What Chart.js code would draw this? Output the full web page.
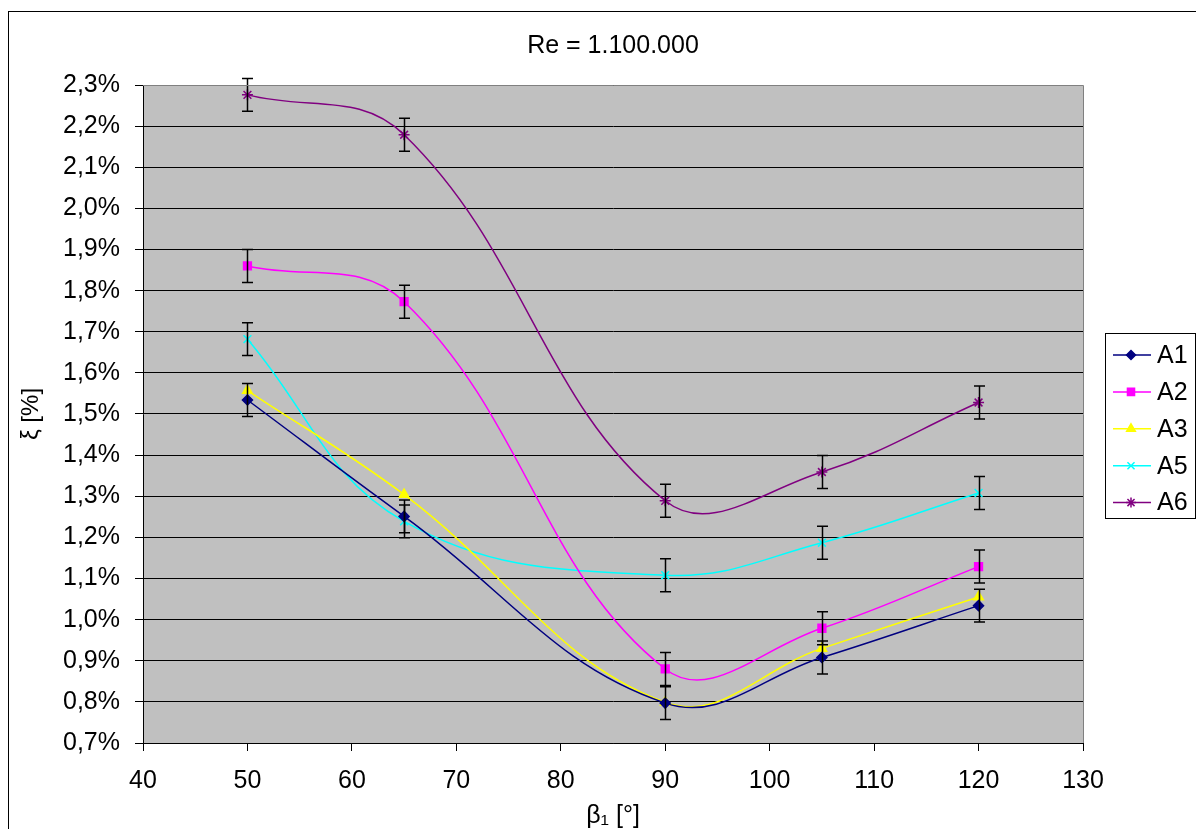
<!DOCTYPE html>
<html>
<head>
<meta charset="utf-8">
<script src="https://cdn.jsdelivr.net/npm/chart.js@4/dist/chart.umd.min.js"></script>
<style>
  html, body { margin: 0; padding: 0; background: #fff; }
  #wrap { width: 1196px; height: 829px; }
</style>
</head>
<body>
<div id="wrap"><canvas id="chart" width="1196" height="829"></canvas></div>
<script>
const beta = [50, 65, 90, 105, 120]

const seriesA1 = [1.534, 1.251, 0.797, 0.908, 1.034]
const seriesA2 = [1.860, 1.773, 0.880, 0.979, 1.129]
const seriesA3 = [1.557, 1.304, 0.799, 0.930, 1.055]
const seriesA5 = [1.682, 1.239, 1.108, 1.187, 1.308]
const seriesA6 = [2.276, 2.179, 1.289, 1.359, 1.528]

// error bar half-widths (A3 has none)
const errA1 = [0.04, 0.04, 0.04, 0.04, 0.04]
const errA2 = [0.04, 0.04, 0.04, 0.04, 0.04]
const errA5 = [0.04, 0.04, 0.04, 0.04, 0.04]
const errA6 = [0.04, 0.04, 0.04, 0.04, 0.04]

const yTicks = [0.7, 0.8, 0.9, 1.0, 1.1, 1.2, 1.3, 1.4, 1.5, 1.6, 1.7, 1.8, 1.9, 2.0, 2.1, 2.2, 2.3]
const xTicks = [40, 50, 60, 70, 80, 90, 100, 110, 120, 130]

const FONT = '"Liberation Sans", Arial, sans-serif'

const makeSet = (label, values, errors, color, style, radius) => ({
  label,
  data: values.map((v, i) => ({ x: beta[i], y: v })),
  errors,
  borderColor: color,
  backgroundColor: color,
  borderWidth: 1.5,
  pointStyle: style,
  pointRadius: radius,
  pointHoverRadius: radius,
  pointBorderWidth: 1.5,
  tension: 0.4,
  fill: false,
})

const datasets = [
  makeSet('A1', seriesA1, errA1, '#000080', 'rectRot', 5),
  makeSet('A2', seriesA2, errA2, '#ff00ff', 'rect', 5.5),
  makeSet('A3', seriesA3, null, '#ffff00', 'triangle', 5.5),
  makeSet('A5', seriesA5, errA5, '#00ffff', 'crossRot', 5.5),
  makeSet('A6', seriesA6, errA6, '#800080', 'star', 5.5),
]

// grey plot background, outer frame, title
const framePlugin = {
  id: 'frame',
  beforeDraw(chart) {
    const { ctx, chartArea: a } = chart
    ctx.save()
    ctx.fillStyle = '#fff'
    ctx.fillRect(0, 0, chart.width, chart.height)
    ctx.strokeStyle = '#000'
    ctx.lineWidth = 1
    ctx.strokeRect(8.5, 11.5, chart.width + 10, chart.height + 10)
    ctx.fillStyle = '#c0c0c0'
    ctx.fillRect(a.left, a.top, a.right - a.left, a.bottom - a.top)
    ctx.fillStyle = '#000'
    ctx.font = '25px ' + FONT
    ctx.textAlign = 'center'
    ctx.textBaseline = 'middle'
    ctx.fillText('Re = 1.100.000', (a.left + a.right) / 2, 46)
    ctx.restore()
  },
  afterDraw(chart) {
    const { ctx, chartArea: a } = chart
    ctx.save()
    ctx.strokeStyle = '#808080'
    ctx.lineWidth = 1
    ctx.beginPath()
    ctx.moveTo(a.left, a.top + 0.5)
    ctx.lineTo(a.right + 0.5, a.top + 0.5)
    ctx.lineTo(a.right + 0.5, a.bottom)
    ctx.stroke()
    ctx.restore()
  },
}

const errorBarPlugin = {
  id: 'errorBars',
  afterDatasetsDraw(chart) {
    const { ctx } = chart
    const xs = chart.scales.x, ys = chart.scales.y
    ctx.save()
    ctx.strokeStyle = '#000'
    ctx.lineWidth = 1.5
    chart.data.datasets.forEach(ds => {
      if (!ds.errors) return
      ds.data.forEach((p, i) => {
        const x = Math.round(xs.getPixelForValue(p.x)) + 0.5
        const y1 = ys.getPixelForValue(p.y + ds.errors[i])
        const y2 = ys.getPixelForValue(p.y - ds.errors[i])
        ctx.beginPath()
        ctx.moveTo(x, y1); ctx.lineTo(x, y2)
        ctx.moveTo(x - 5.5, y1); ctx.lineTo(x + 5.5, y1)
        ctx.moveTo(x - 5.5, y2); ctx.lineTo(x + 5.5, y2)
        ctx.stroke()
      })
    })
    ctx.restore()
  },
}

const legendPlugin = {
  id: 'boxLegend',
  afterDraw(chart) {
    const { ctx } = chart
    const left = 1105, top = 333, w = 91, h = 185
    ctx.save()
    ctx.fillStyle = '#fff'
    ctx.fillRect(left, top, w, h)
    ctx.strokeStyle = '#000'
    ctx.lineWidth = 1
    ctx.strokeRect(left + 0.5, top + 0.5, w - 1, h)
    chart.data.datasets.forEach((ds, i) => {
      const y = 355 + i * 36.9
      ctx.strokeStyle = ds.borderColor
      ctx.lineWidth = 1.5
      ctx.beginPath()
      ctx.moveTo(1113, y); ctx.lineTo(1151, y)
      ctx.stroke()
      ctx.fillStyle = ds.backgroundColor
      Chart.helpers.drawPoint(ctx, {
        pointStyle: ds.pointStyle, radius: ds.pointRadius - 0.5, rotation: 0, borderWidth: 1.5,
      }, 1131, y)
      ctx.fillStyle = '#000'
      ctx.font = '25px ' + FONT
      ctx.textAlign = 'left'
      ctx.textBaseline = 'middle'
      ctx.fillText(ds.label, 1157, y + 1)
    })
    ctx.restore()
  },
}

new Chart(document.getElementById('chart'), {
  type: 'line',
  data: { datasets },
  options: {
    responsive: false,
    animation: false,
    devicePixelRatio: 1,
    layout: { padding: { top: 85, right: 113, left: 0, bottom: 0 } },
    scales: {
      x: {
        type: 'linear',
        min: 40,
        max: 130,
        afterFit: s => { s.height = 86 },
        afterBuildTicks: s => { s.ticks = xTicks.map(v => ({ value: v })) },
        ticks: { color: '#000', font: { size: 25, family: FONT }, padding: 15 },
        grid: { drawOnChartArea: false, drawTicks: true, tickLength: 8, color: '#000' },
        border: { color: '#000', width: 1 },
        title: {
          display: true, text: 'β₁ [°]', color: '#000',
          font: { size: 25, family: FONT, lineHeight: 1 }, padding: { top: 0, bottom: 0 },
        },
      },
      y: {
        min: 0.7,
        max: 2.3,
        afterFit: s => { s.width = 143 },
        afterBuildTicks: s => { s.ticks = yTicks.map(v => ({ value: v })) },
        ticks: {
          color: '#000', font: { size: 25, family: FONT }, padding: 15,
          callback: v => v.toFixed(1).replace('.', ',') + '%',
        },
        grid: { color: '#000', lineWidth: 1, tickLength: 8 },
        border: { color: '#000', width: 1 },
        title: {
          display: true, text: 'ξ [%]', color: '#000',
          font: { size: 24, family: FONT }, padding: { top: 17, bottom: 0 },
        },
      },
    },
    plugins: {
      legend: { display: false },
      tooltip: { enabled: false },
    },
  },
  plugins: [framePlugin, errorBarPlugin, legendPlugin],
})
</script>
</body>
</html>
